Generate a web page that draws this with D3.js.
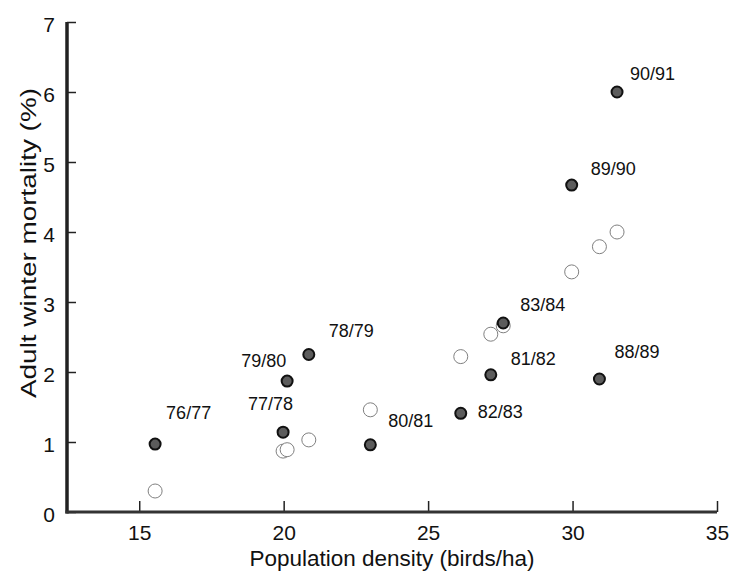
<!DOCTYPE html>
<html>
<head>
<meta charset="utf-8">
<script src="https://cdn.jsdelivr.net/npm/d3@7"></script>
<style>
  html, body { margin: 0; padding: 0; background: #fff; }
  svg { display: block; }
  text { font-family: "Liberation Sans", Arial, sans-serif; fill: #111; }
</style>
</head>
<body>
<svg id="chart" width="730" height="575"></svg>
<script>
// ---- data ----
const years = ["76/77","77/78","78/79","79/80","80/81","81/82","82/83","83/84","88/89","89/90","90/91"];
const density = [15.55, 19.98, 20.87, 20.12, 23.0, 27.17, 26.13, 27.6, 30.93, 29.97, 31.54];
const observedMortality = [0.97, 1.14, 2.25, 1.87, 0.96, 1.96, 1.41, 2.70, 1.90, 4.67, 6.00];
const predictedMortality = [0.30, 0.87, 1.03, 0.89, 1.46, 2.54, 2.22, 2.66, 3.79, 3.43, 4.00];
const xTicks = [15, 20, 25, 30, 35];
const yTicks = [0, 1, 2, 3, 4, 5, 6, 7];
const xTitle = "Population density (birds/ha)";
const yTitle = "Adult winter mortality (%)";

// label placement (offset from point, px)
const labelOffset = {
  "76/77": [11, -31], "77/78": [-35, -28], "78/79": [20, -24], "79/80": [-46, -20],
  "80/81": [18, -24], "81/82": [20, -16], "82/83": [17, -1], "83/84": [17, -18],
  "88/89": [15, -27], "89/90": [19, -16], "90/91": [13, -18]
};

const svg = d3.select("#chart");
const x = d3.scaleLinear().domain([12.5, 35]).range([67, 717]);
const y = d3.scaleLinear().domain([0, 7]).range([512, 22]);

// y ticks (inward)
const yAxis = d3.axisLeft(y).tickValues(yTicks).tickSize(-9).tickPadding(12).tickFormat(d3.format("d"));
const gy = svg.append("g").attr("transform", `translate(${x.range()[0]},0)`).call(yAxis);
gy.select(".domain").remove();
gy.selectAll(".tick line").attr("stroke", "#222").attr("stroke-width", 1.5);
gy.selectAll(".tick text").attr("font-size", 21).attr("dy", "0.45em").attr("fill", "#111");

// x ticks (inward)
const xAxis = d3.axisBottom(x).tickValues(xTicks).tickSize(-11).tickPadding(14).tickFormat(d3.format("d"));
const gx = svg.append("g").attr("transform", `translate(0,${y(0)})`).call(xAxis);
gx.select(".domain").remove();
gx.selectAll(".tick line").attr("stroke", "#222").attr("stroke-width", 1.5);
gx.selectAll(".tick text").attr("font-size", 21).attr("y", 28).attr("dy", 0).attr("fill", "#111");

// axis lines
svg.append("line").attr("x1", x.range()[0]).attr("x2", x.range()[0])
  .attr("y1", y(7)).attr("y2", y(0) + 1.5).attr("stroke", "#222").attr("stroke-width", 3.5);
svg.append("line").attr("x1", x.range()[0] - 1.5).attr("x2", x(35))
  .attr("y1", y(0)).attr("y2", y(0)).attr("stroke", "#333").attr("stroke-width", 3);

// titles
svg.append("text").attr("x", (x.range()[0] + x.range()[1]) / 2).attr("y", 566)
  .attr("text-anchor", "middle").attr("font-size", 22.5).text(xTitle);
svg.append("text").attr("transform", `translate(28,243) rotate(-90)`)
  .attr("text-anchor", "middle").attr("dominant-baseline", "central").attr("font-size", 22)
  .attr("textLength", 310).attr("lengthAdjust", "spacingAndGlyphs").text(yTitle);

const rows = years.map((yr, i) => ({ yr, d: density[i], obs: observedMortality[i], pred: predictedMortality[i] }));

// predicted (open)
svg.append("g").selectAll("circle").data(rows).join("circle")
  .attr("cx", r => x(r.d)).attr("cy", r => y(r.pred)).attr("r", 7)
  .attr("fill", "#fff").attr("stroke", "#808080").attr("stroke-width", 1);

// observed (filled)
svg.append("g").selectAll("circle").data(rows).join("circle")
  .attr("cx", r => x(r.d)).attr("cy", r => y(r.obs)).attr("r", 5.5)
  .attr("fill", "#5c5c5c").attr("stroke", "#111").attr("stroke-width", 2);

// labels
svg.append("g").selectAll("text").data(rows).join("text")
  .attr("x", r => x(r.d) + labelOffset[r.yr][0])
  .attr("y", r => y(r.obs) + labelOffset[r.yr][1])
  .attr("dominant-baseline", "central").attr("font-size", 18).text(r => r.yr);
</script>
</body>
</html>
